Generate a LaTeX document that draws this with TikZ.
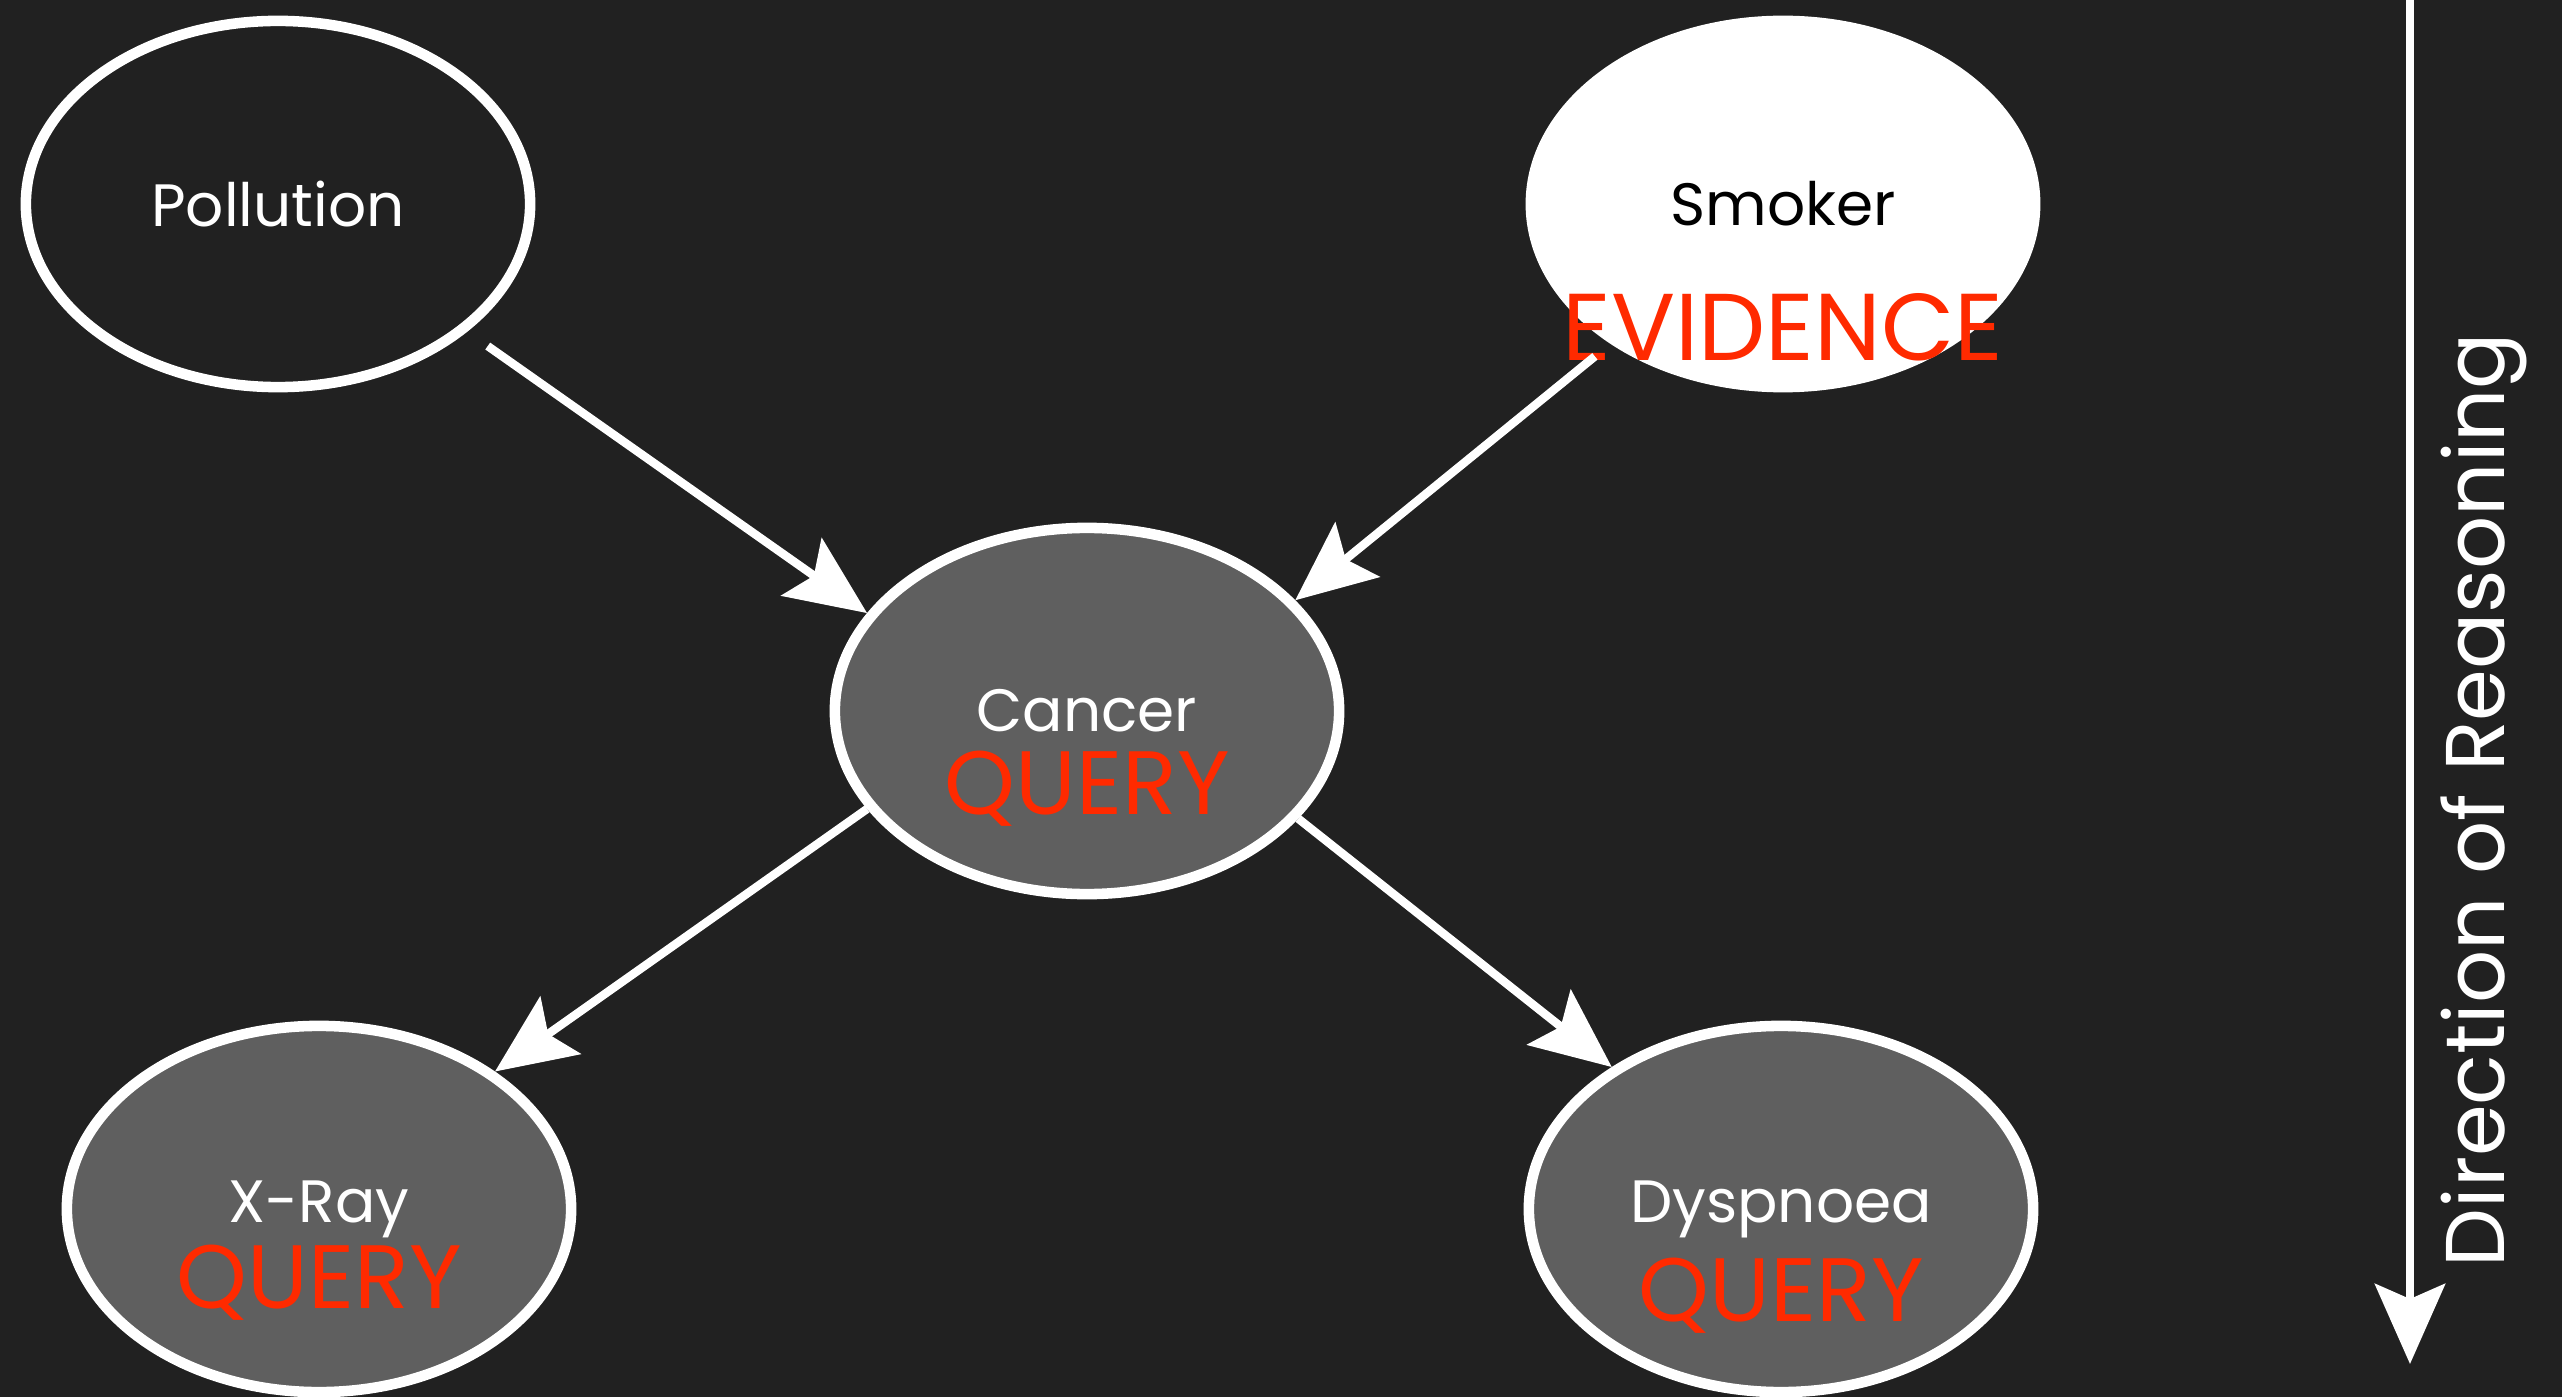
\documentclass[tikz,border=0pt]{standalone}
\usepackage{fontspec}
\setmainfont{Poppins}
\usetikzlibrary{arrows.meta,positioning,shapes.geometric}

\definecolor{board}{HTML}{212121}
\definecolor{chalkgray}{HTML}{5F5F5F}
\definecolor{tagred}{HTML}{FF2A00}

\begin{document}
\begin{tikzpicture}[x=0.01cm,y=-0.01cm,
  >={Stealth[length=8mm,width=7mm,inset=1.5mm]},
  var/.style={ellipse,draw=white,line width=3pt,minimum width=5.04cm,
    minimum height=3.66cm,inner sep=0pt,font=\fontsize{17}{20}\selectfont},
  latent/.style={var,text=white},
  queried/.style={var,fill=chalkgray,text=white},
  observed/.style={var,fill=white,text=black},
  flag/.style={text=tagred,inner sep=0pt,font=\fontsize{25.6}{30}\selectfont},
  link/.style={->,white,line width=2.4pt}]

% Chalkboard
\fill[board] (0,0) rectangle (2562,1397);
\useasboundingbox (0,0) rectangle (2562,1397);

% Variables of the network
\node[latent]   (pol) at (278,204)   {Pollution};
\node[observed] (smk) at (1783,204)  {Smoker};
\node[queried]  (can) at (1087,711)  {Cancer};
\node[queried]  (xry) at (319,1209)  {X-Ray};
\node[queried]  (dys) at (1781,1209) {Dyspnoea};

% Evidence / query tags
\node[flag,font=\fontsize{27}{32}\selectfont] (smkq) at ([yshift=-1.23cm]smk.center) {EVIDENCE};
\node[flag] (canq) at ([yshift=-0.78cm]can.center) {QUERY};
\node[flag] (xryq) at ([yshift=-0.74cm]xry.center) {QUERY};
\node[flag] (dysq) at ([yshift=-0.87cm]dys.center) {QUERY};

% Causal links
\draw[link,shorten <=0.25cm] (pol.-34) -- (can.156);
\draw[link,shorten <=0.2cm]  (smk.219) -- (can.28);
\draw[link] (can.204) -- (xry.38);
\draw[link] (can.-27) -- (dys.140);

% Direction of reasoning
\coordinate (dtop) at (2410,0);
\coordinate (dbot) at (2410,1364);
\draw[link] (dtop) -- (dbot);
\node[rotate=90,text=white,font=\fontsize{23.7}{28}\selectfont] (dir) at (2484,800) {Direction of Reasoning};

\end{tikzpicture}
\end{document}
